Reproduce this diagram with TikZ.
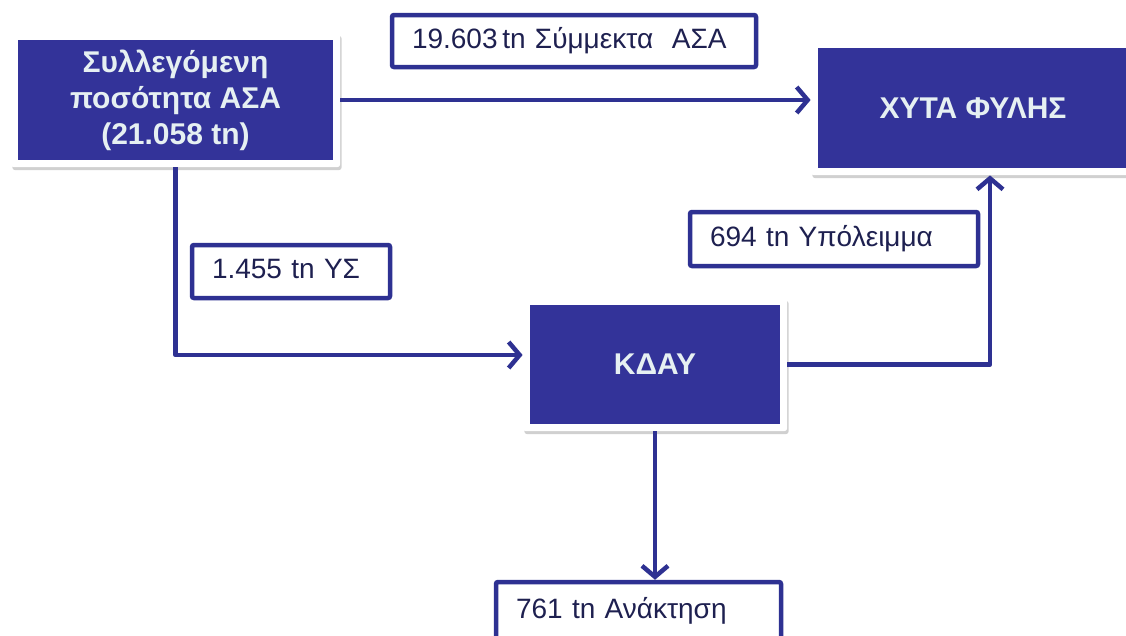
\documentclass[tikz,border=0pt]{standalone}
\usepackage{fontspec}
\setmainfont{Liberation Sans}
\usetikzlibrary{arrows.meta,shadows,fit,backgrounds,calc,positioning}
\definecolor{boxblue}{HTML}{333399}
\definecolor{linkblue}{HTML}{2E3192}
\definecolor{navytext}{HTML}{1E2050}
\definecolor{lighttext}{HTML}{E6F0F2}
\tikzset{
  bluebox/.style={fill=boxblue, draw=none, text=lighttext, font=\bfseries\fontsize{30}{36}\selectfont, align=center, inner sep=0pt},
  card/.style={fill=white, draw=none, rounded corners=3pt, inner sep=7pt, drop shadow={shadow xshift=1.5pt, shadow yshift=-3pt, opacity=0.3, fill=black!60}},
  labelbox/.style={fill=white, draw=linkblue, line width=4.5pt, rounded corners=2pt, text=navytext, font=\fontsize{28}{32}\selectfont, align=left, inner xsep=0pt, inner ysep=0pt, text height=20pt, text depth=6pt},
  flow/.style={draw=linkblue, line width=4.5pt, line join=round, -{Straight Barb[length=11pt,width=26pt,line width=4.5pt]}},
}
\begin{document}
\begin{tikzpicture}[x=1pt,y=-1pt]
\clip (0,0) rectangle (1126,635);
% blue boxes
\node[bluebox, minimum width=315pt, minimum height=120pt] (src) at (175.5,100) {Συλλεγόμενη\\ποσότητα ΑΣΑ\\(21.058 tn)};
\node[bluebox, minimum width=310pt, minimum height=120pt] (xyta) at (973,108) {ΧΥΤΑ ΦΥΛΗΣ};
\node[bluebox, minimum width=250pt, minimum height=119pt] (kday) at (655,364.5) {ΚΔΑΥ};
\begin{scope}[on background layer]
  \fill[white] (0,0) rectangle (1126,635);
  \node[card, fit=(src)] (srcC) {};
  \node[card, fit=(xyta)] (xytaC) {};
  \node[card, fit=(kday)] (kdayC) {};
\end{scope}
% label boxes
\node[labelbox, minimum width=364pt, minimum height=52pt, text width=324pt] (l1) at (574,41) {19.603\,tn Σύμμεκτα\ \ ΑΣΑ};
\node[labelbox, minimum width=288pt, minimum height=54pt, text width=248pt] (l2) at (834,239) {694 tn Υπόλειμμα};
\node[labelbox, minimum width=198pt, minimum height=53pt, text width=158pt] (l3) at (291,271.5) {1.455 tn ΥΣ};
\node[labelbox, minimum width=285pt, minimum height=58pt, text width=245pt] (l4) at (638.5,611) {761 tn Ανάκτηση};
% connectors
\coordinate (upx) at (990,0);
\draw[flow] (srcC.east |- 0,100) -- (xytaC.west |- 0,100);
\draw[flow] (srcC.south) -- (srcC.south |- 0,355) -- (kdayC.west |- 0,355);
\draw[flow] (kdayC.east) -- (kdayC.east -| upx) -- (xytaC.south -| upx);
\draw[flow] (kdayC.south) -- (l4.north -| kdayC.south);
\end{tikzpicture}
\end{document}
